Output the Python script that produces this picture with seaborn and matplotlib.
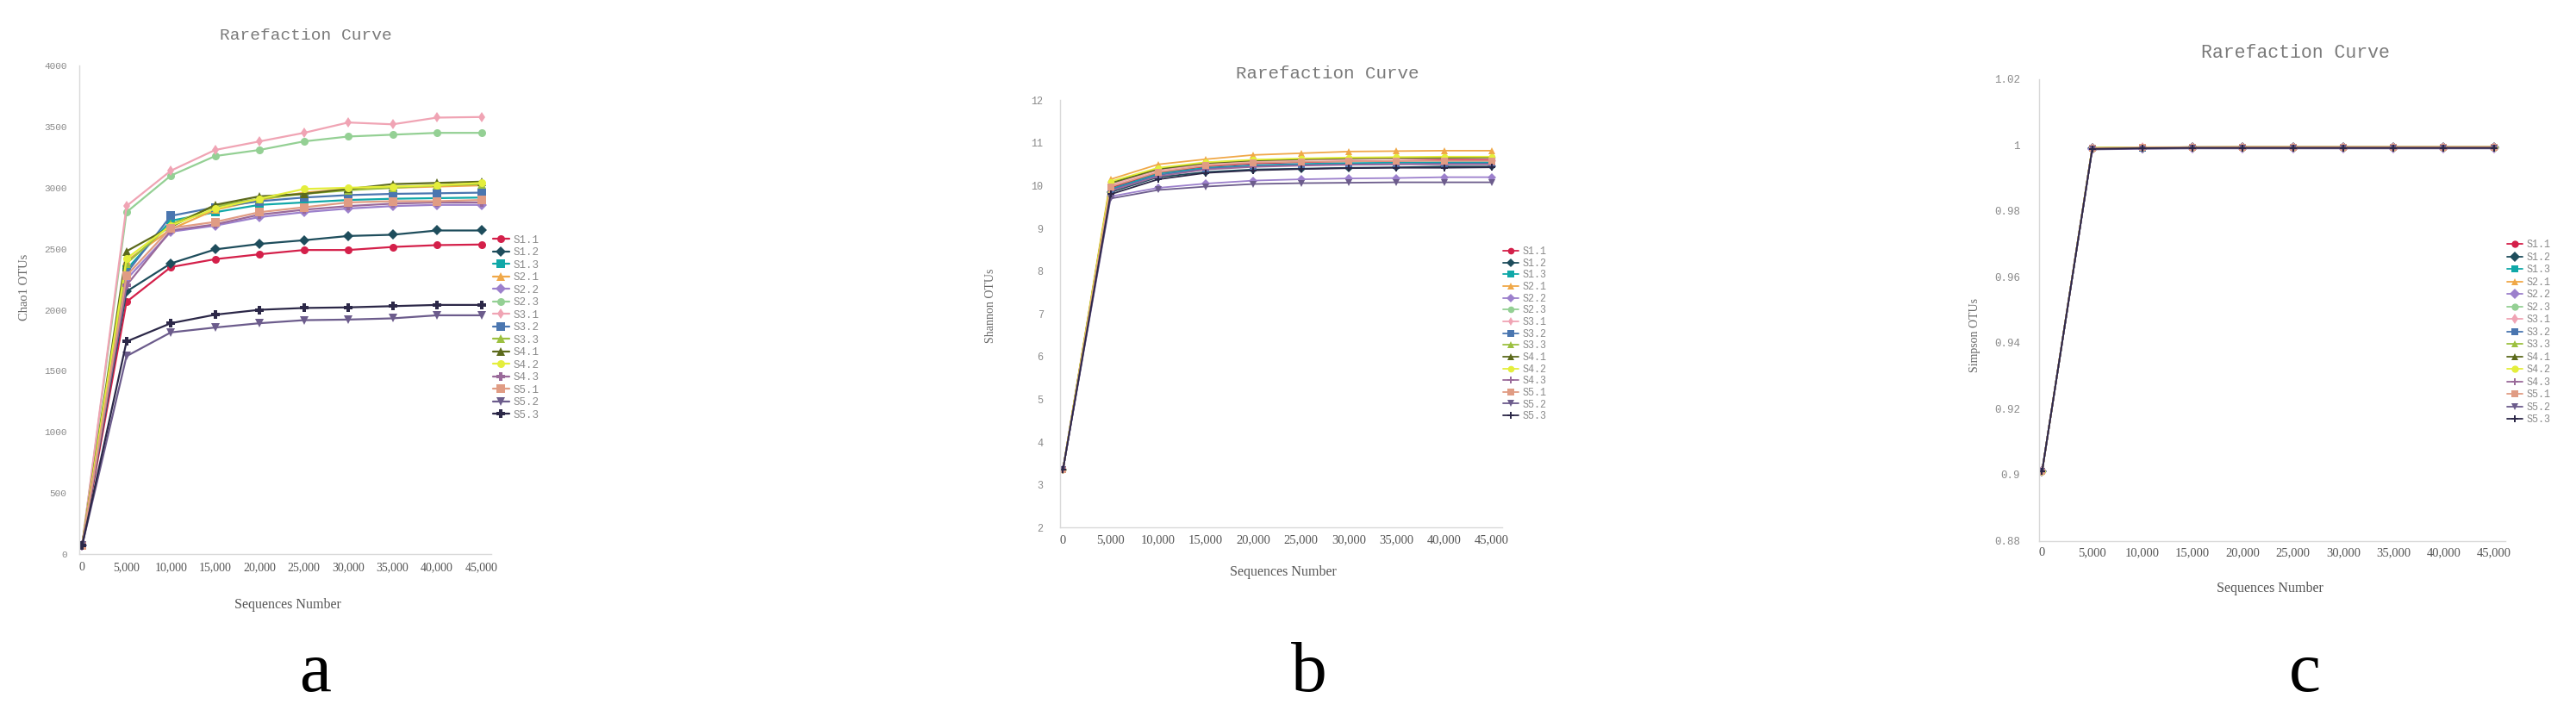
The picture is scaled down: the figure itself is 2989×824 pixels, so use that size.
import matplotlib
matplotlib.use('Agg')
import matplotlib.pyplot as plt
import seaborn as sns
import pandas as pd

sns.set_theme(style='white')
plt.rcParams['font.family'] = ['Liberation Serif', 'DejaVu Serif']

# ---------------------------------------------------------------------------
# data
# ---------------------------------------------------------------------------
seq_numbers = [0, 5000, 10000, 15000, 20000, 25000, 30000, 35000, 40000, 45000]

samples = ['S1.1', 'S1.2', 'S1.3', 'S2.1', 'S2.2', 'S2.3', 'S3.1', 'S3.2',
           'S3.3', 'S4.1', 'S4.2', 'S4.3', 'S5.1', 'S5.2', 'S5.3']

colors = ['#d4204a', '#1e4d5c', '#10a8a8', '#f0a848', '#9c80cc', '#94d094',
          '#f0a4b4', '#4a76b0', '#9cc040', '#5c6a1c', '#e4ee3c', '#9a6a9a',
          '#e09c84', '#6c5c8c', '#2c2848']

markers = ['o', 'D', 's', '^', 'D', 'o', 'd', 's', '^', '^', 'o', 'P', 's', 'v', 'P']

chao1 = {
    'S1.1': [70, 2065, 2350, 2415, 2455, 2490, 2490, 2515, 2530, 2535],
    'S1.2': [70, 2150, 2380, 2495, 2540, 2570, 2605, 2615, 2650, 2650],
    'S1.3': [70, 2330, 2730, 2800, 2860, 2880, 2900, 2910, 2915, 2920],
    'S2.1': [70, 2400, 2660, 2820, 2900, 2960, 2990, 3000, 3010, 3020],
    'S2.2': [70, 2250, 2640, 2690, 2760, 2800, 2830, 2850, 2860, 2860],
    'S2.3': [70, 2800, 3100, 3260, 3310, 3380, 3420, 3435, 3450, 3450],
    'S3.1': [70, 2850, 3140, 3310, 3380, 3450, 3535, 3520, 3575, 3580],
    'S3.2': [70, 2300, 2770, 2840, 2890, 2920, 2940, 2950, 2955, 2960],
    'S3.3': [70, 2380, 2700, 2850, 2910, 2950, 2980, 3000, 3020, 3030],
    'S4.1': [70, 2480, 2680, 2860, 2930, 2950, 2990, 3030, 3040, 3050],
    'S4.2': [70, 2420, 2690, 2830, 2910, 2990, 3000, 3010, 3020, 3040],
    'S4.3': [70, 2200, 2650, 2700, 2780, 2820, 2850, 2870, 2880, 2880],
    'S5.1': [70, 2280, 2670, 2720, 2800, 2840, 2880, 2890, 2890, 2900],
    'S5.2': [70, 1620, 1815, 1855, 1890, 1915, 1920, 1930, 1955, 1955],
    'S5.3': [70, 1740, 1890, 1960, 2000, 2015, 2020, 2030, 2040, 2040],
}

shannon = {
    'S1.1': [3.35, 9.95, 10.30, 10.45, 10.52, 10.55, 10.57, 10.58, 10.60, 10.60],
    'S1.2': [3.35, 9.85, 10.20, 10.32, 10.38, 10.40, 10.42, 10.43, 10.45, 10.45],
    'S1.3': [3.35, 9.92, 10.28, 10.42, 10.48, 10.51, 10.53, 10.54, 10.55, 10.55],
    'S2.1': [3.35, 10.15, 10.50, 10.62, 10.72, 10.76, 10.80, 10.81, 10.82, 10.82],
    'S2.2': [3.35, 9.75, 9.95, 10.05, 10.12, 10.15, 10.17, 10.18, 10.20, 10.20],
    'S2.3': [3.35, 10.05, 10.38, 10.52, 10.58, 10.61, 10.63, 10.64, 10.64, 10.65],
    'S3.1': [3.35, 10.02, 10.36, 10.50, 10.57, 10.60, 10.62, 10.63, 10.63, 10.64],
    'S3.2': [3.35, 9.90, 10.25, 10.40, 10.46, 10.49, 10.50, 10.51, 10.52, 10.52],
    'S3.3': [3.35, 10.08, 10.40, 10.54, 10.60, 10.63, 10.65, 10.66, 10.66, 10.67],
    'S4.1': [3.35, 10.06, 10.39, 10.53, 10.59, 10.62, 10.64, 10.65, 10.65, 10.66],
    'S4.2': [3.35, 10.10, 10.42, 10.55, 10.61, 10.64, 10.66, 10.67, 10.68, 10.68],
    'S4.3': [3.35, 9.88, 10.22, 10.38, 10.44, 10.47, 10.49, 10.50, 10.50, 10.50],
    'S5.1': [3.35, 9.98, 10.32, 10.47, 10.54, 10.56, 10.57, 10.58, 10.58, 10.58],
    'S5.2': [3.35, 9.70, 9.90, 9.98, 10.04, 10.06, 10.07, 10.08, 10.08, 10.08],
    'S5.3': [3.35, 9.80, 10.15, 10.30, 10.36, 10.39, 10.41, 10.42, 10.42, 10.43],
}

simpson = {
    'S1.1': [0.901, 0.9990, 0.9992, 0.9993, 0.9993, 0.9993, 0.9993, 0.9993, 0.9993, 0.9993],
    'S1.2': [0.901, 0.9989, 0.9991, 0.9992, 0.9992, 0.9992, 0.9992, 0.9992, 0.9992, 0.9992],
    'S1.3': [0.901, 0.9990, 0.9992, 0.9992, 0.9993, 0.9993, 0.9993, 0.9993, 0.9993, 0.9993],
    'S2.1': [0.901, 0.9991, 0.9993, 0.9993, 0.9994, 0.9994, 0.9994, 0.9994, 0.9994, 0.9994],
    'S2.2': [0.901, 0.9987, 0.9989, 0.9990, 0.9990, 0.9990, 0.9990, 0.9990, 0.9990, 0.9990],
    'S2.3': [0.901, 0.9990, 0.9992, 0.9993, 0.9993, 0.9993, 0.9993, 0.9993, 0.9993, 0.9993],
    'S3.1': [0.901, 0.9990, 0.9992, 0.9993, 0.9993, 0.9993, 0.9993, 0.9993, 0.9993, 0.9993],
    'S3.2': [0.901, 0.9989, 0.9991, 0.9992, 0.9992, 0.9992, 0.9992, 0.9992, 0.9992, 0.9992],
    'S3.3': [0.901, 0.9991, 0.9992, 0.9993, 0.9993, 0.9993, 0.9993, 0.9993, 0.9993, 0.9993],
    'S4.1': [0.901, 0.9990, 0.9992, 0.9993, 0.9993, 0.9993, 0.9993, 0.9993, 0.9993, 0.9993],
    'S4.2': [0.901, 0.9991, 0.9993, 0.9993, 0.9993, 0.9993, 0.9993, 0.9993, 0.9993, 0.9993],
    'S4.3': [0.901, 0.9989, 0.9991, 0.9992, 0.9992, 0.9992, 0.9992, 0.9992, 0.9992, 0.9992],
    'S5.1': [0.901, 0.9990, 0.9992, 0.9992, 0.9993, 0.9993, 0.9993, 0.9993, 0.9993, 0.9993],
    'S5.2': [0.901, 0.9986, 0.9988, 0.9989, 0.9989, 0.9989, 0.9989, 0.9989, 0.9989, 0.9989],
    'S5.3': [0.901, 0.9988, 0.9990, 0.9991, 0.9991, 0.9991, 0.9991, 0.9991, 0.9991, 0.9991],
}

GREY = '#8a8a8a'
AXIS = '#d9d9d9'
W, H = 1568.0, 432.0   # layout measured on the shrunk reference


def to_long(values):
    rows = []
    for s in samples:
        for x, v in zip(seq_numbers, values[s]):
            rows.append({'seq': x, 'value': v, 'sample': s})
    return pd.DataFrame(rows)


def fx(x):
    return x / W


def fy(y):
    return 1 - y / H


def draw_panel(fig, box, values, ylim, yticks, label_fmt, ylab, spots, sizes):
    # box = (x of seq 0, x of seq 45000, y of ylim[0], y of ylim[1]) in shrunk px
    x0, x45, yb, yt = box
    per_unit = (x45 - x0) / 45000
    left = x0 - 300 * per_unit
    ax = fig.add_axes([fx(left), fy(yb), 46400 * per_unit / W, (yb - yt) / H])

    sns.lineplot(data=to_long(values), x='seq', y='value', hue='sample',
                 style='sample', hue_order=samples, style_order=samples,
                 palette=dict(zip(samples, colors)),
                 markers=dict(zip(samples, markers)), dashes=False,
                 linewidth=sizes['lw'], markersize=sizes['ms'],
                 markeredgewidth=0, sort=False, ax=ax, legend='full')

    ax.set_xlim(-300, 46100)
    ax.set_ylim(*ylim)
    ax.set_xticks(seq_numbers)
    ax.set_xticklabels([f'{x:,}' for x in seq_numbers])
    ax.set_yticks(yticks)
    ax.set_yticklabels([label_fmt(v) for v in yticks], family='Liberation Mono')
    ax.tick_params(axis='x', length=0, pad=sizes['xpad'],
                   labelsize=sizes['xtick'], colors='#555555')
    ax.tick_params(axis='y', length=0, pad=sizes['ypad'],
                   labelsize=sizes['ytick'], colors=GREY)
    ax.set_xlabel('')
    ax.set_ylabel('')
    for side in ['top', 'right']:
        ax.spines[side].set_visible(False)
    for side in ['left', 'bottom']:
        ax.spines[side].set_color(AXIS)
        ax.spines[side].set_linewidth(1.0)

    handles, labels = ax.get_legend_handles_labels()
    lx, ly = spots['legend']
    ax.legend(handles, labels, loc='upper left',
              bbox_to_anchor=(fx(lx), fy(ly)), bbox_transform=fig.transFigure,
              frameon=False,
              prop={'family': 'Liberation Mono', 'size': sizes['leg']},
              labelcolor=GREY, handlelength=1.5, handletextpad=0.4,
              labelspacing=sizes['legsp'], borderpad=0, borderaxespad=0)

    tx, ty = spots['title']
    fig.text(fx(tx), fy(ty), 'Rarefaction Curve', ha='center', va='center',
             fontsize=sizes['title'], color='#7a7a7a', family='Liberation Mono')
    yx, yy = spots['ylabel']
    fig.text(fx(yx), fy(yy), ylab, rotation=90, ha='center', va='center',
             fontsize=sizes['ylab'], color='#666666')
    sx, sy = spots['xlabel']
    fig.text(fx(sx), fy(sy), 'Sequences Number', ha='center', va='center',
             fontsize=11.5, color='#555555')
    return ax


fig = plt.figure(figsize=(29.89, 8.24), dpi=100)

# a: Chao1
draw_panel(fig, (50, 293, 337, 40), chao1, (0, 4000),
           list(range(0, 4001, 500)), lambda v: f'{v}', 'Chao1 OTUs',
           {'title': (186, 22), 'ylabel': (15, 175), 'xlabel': (175, 368),
            'legend': (300, 143)},
           {'lw': 1.6, 'ms': 6.5, 'xtick': 10, 'ytick': 8, 'xpad': 6.5,
            'ypad': 10.5, 'leg': 9, 'legsp': 0.2, 'title': 14, 'ylab': 10.5})

# b: Shannon
draw_panel(fig, (647, 908, 321, 61), shannon, (2, 12),
           list(range(2, 13)), lambda v: f'{v}', 'Shannon OTUs',
           {'title': (808, 45), 'ylabel': (603, 186), 'xlabel': (781, 348),
            'legend': (915, 150)},
           {'lw': 1.3, 'ms': 5.5, 'xtick': 10.5, 'ytick': 8.5, 'xpad': 6,
            'ypad': 14, 'leg': 8.5, 'legsp': 0.14, 'title': 15, 'ylab': 10})

# c: Simpson
draw_panel(fig, (1243, 1518, 329, 48), simpson, (0.88, 1.02),
           [0.88, 0.90, 0.92, 0.94, 0.96, 0.98, 1.00, 1.02],
           lambda v: f'{v:g}', 'Simpson OTUs',
           {'title': (1397, 32), 'ylabel': (1202, 204), 'xlabel': (1382, 358),
            'legend': (1526, 146)},
           {'lw': 1.3, 'ms': 6, 'xtick': 10.5, 'ytick': 9, 'xpad': 5.5,
            'ypad': 16, 'leg': 8.5, 'legsp': 0.21, 'title': 15.5, 'ylab': 10})

# panel letters
for letter, x in [('a', 192), ('b', 797), ('c', 1403)]:
    fig.text(fx(x), fy(420.5), letter, ha='center', va='baseline',
             fontsize=60, color='black', family='Liberation Serif')

fig.savefig('out.png', dpi=100)
plt.close(fig)
